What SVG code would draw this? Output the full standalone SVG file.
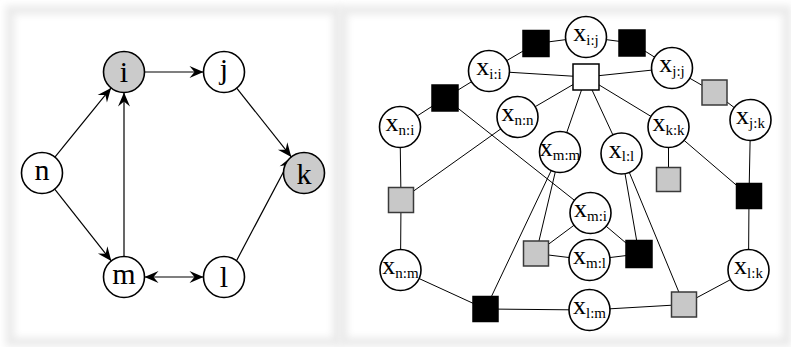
<svg xmlns="http://www.w3.org/2000/svg" width="791" height="347" viewBox="0 0 791 347">
<style>
.edge{stroke:#000;stroke-width:1.2;fill:none}
.ln{stroke:#000;stroke-width:1;fill:none}
.nd{fill:#fff;stroke:#000;stroke-width:1.6}
.nd.g{fill:#cbcbcb}
.lb{font-family:"Liberation Serif","DejaVu Serif",serif;font-size:30px;text-anchor:middle;fill:#000}
.xl{font-family:"Liberation Serif","DejaVu Serif",serif;font-size:26px;text-anchor:middle;fill:#000}
.sb{font-size:15px}
.fb{fill:#000;stroke:#000;stroke-width:1.5}
.fg{fill:#c8c8c8;stroke:#3a3a3a;stroke-width:1.5}
.fw{fill:#fff;stroke:#000;stroke-width:1.5}
</style>
<defs>
<filter id="sh" x="-5%" y="-5%" width="110%" height="110%"><feGaussianBlur stdDeviation="3.5"/></filter>
<marker id="ar" markerUnits="userSpaceOnUse" markerWidth="17" markerHeight="15" viewBox="-15 -7.5 17 15" refX="0" refY="0" orient="auto-start-reverse">
<path d="M0,0 L-14,-6 L-9,0 L-14,6 Z" fill="#000"/>
</marker>
</defs>
<rect width="791" height="347" fill="#fff"/>
<g id="panels">
<rect x="10" y="10" width="327" height="332" fill="none" stroke="#ebebeb" stroke-width="9" filter="url(#sh)"/>
<rect x="343" y="10" width="444" height="332" fill="none" stroke="#ebebeb" stroke-width="9" filter="url(#sh)"/>
</g>
<g id="left-edges">
<line class="edge" x1="144.5" y1="72" x2="203.5" y2="72" marker-end="url(#ar)"/>
<line class="edge" x1="236.7" y1="88.1" x2="291.3" y2="156.9" marker-end="url(#ar)"/>
<line class="edge" x1="54.9" y1="157.1" x2="111.1" y2="87.9" marker-end="url(#ar)"/>
<line class="edge" x1="54.7" y1="189.1" x2="111.3" y2="260.9" marker-end="url(#ar)"/>
<line class="edge" x1="124" y1="256.5" x2="124" y2="92.5" marker-end="url(#ar)"/>
<line class="edge" x1="236.5" y1="260.7" x2="291.5" y2="156.7" marker-end="url(#ar)"/>
<line class="edge" x1="144.5" y1="277" x2="203.5" y2="277" marker-start="url(#ar)" marker-end="url(#ar)"/>
</g>
<g id="node-i"><circle class="nd g" cx="124" cy="72" r="20.5"/><text class="lb" x="124" y="82">i</text></g>
<g id="node-j"><circle class="nd" cx="224" cy="72" r="20.5"/><text class="lb" x="224" y="79">j</text></g>
<g id="node-n"><circle class="nd" cx="42" cy="173" r="20.5"/><text class="lb" x="42" y="180">n</text></g>
<g id="node-k"><circle class="nd g" cx="304" cy="173" r="20.5"/><text class="lb" x="304" y="184">k</text></g>
<g id="node-m"><circle class="nd" cx="124" cy="277" r="20.5"/><text class="lb" x="124" y="284">m</text></g>
<g id="node-l"><circle class="nd" cx="224" cy="277" r="20.5"/><text class="lb" x="224" y="287">l</text></g>
<g id="right-edges">
<path class="ln" d="M489,71 L536,43.5 L586,37"/>
<path class="ln" d="M586,37 L632,43 L672,68"/>
<path class="ln" d="M586,77 L489,71 M586,77 L672,68 M586,77 L517.5,117 M586,77 L560,152 M586,77 L621.5,153.5 M586,77 L668.5,127"/>
<path class="ln" d="M445,98 L400,127 M445,98 L489,71 M445,98 L590.5,213"/>
<path class="ln" d="M672,68 L714.5,92.5 L750.5,120"/>
<path class="ln" d="M668.5,127 L668.5,179.5"/>
<path class="ln" d="M749,196 L750.5,120 M749,196 L748.5,270 M749,196 L668.5,127"/>
<path class="ln" d="M401,200 L400,127 M401,200 L400.5,270 M401,200 L517.5,117"/>
<path class="ln" d="M536,253.5 L560,152 M536,253.5 L590.5,213 M536,253.5 L589.5,260"/>
<path class="ln" d="M639,254 L621.5,153.5 M639,254 L590.5,213 M639,254 L589.5,260"/>
<path class="ln" d="M485.5,309 L400.5,270 M485.5,309 L589.5,310 M485.5,309 L560,152"/>
<path class="ln" d="M684,304.5 L621.5,153.5 M684,304.5 L589.5,310 M684,304.5 L748.5,270"/>
</g>
<g id="f1"><rect class="fb" x="523" y="30.5" width="26" height="26"/></g>
<g id="f2"><rect class="fb" x="619" y="30" width="26" height="26"/></g>
<g id="f3"><rect class="fw" x="573" y="64" width="26" height="26"/></g>
<g id="f4"><rect class="fb" x="432" y="85" width="26" height="26"/></g>
<g id="f5"><rect class="fg" x="702" y="80" width="25" height="25"/></g>
<g id="f6"><rect class="fg" x="656.5" y="167.5" width="24" height="24"/></g>
<g id="f7"><rect class="fb" x="736.5" y="183.5" width="25" height="25"/></g>
<g id="f8"><rect class="fg" x="388.5" y="187.5" width="25" height="25"/></g>
<g id="f9"><rect class="fg" x="523.5" y="241" width="25" height="25"/></g>
<g id="f10"><rect class="fb" x="626" y="240.5" width="26" height="27"/></g>
<g id="f11"><rect class="fb" x="473" y="296.5" width="25" height="25"/></g>
<g id="f12"><rect class="fg" x="671.5" y="292" width="25" height="25"/></g>
<g id="x-ii"><circle class="nd" cx="489" cy="71" r="20.5"/><text class="xl" x="489" y="75">x<tspan class="sb" dy="3.5">i:i</tspan></text></g>
<g id="x-ij"><circle class="nd" cx="586" cy="37" r="20.5"/><text class="xl" x="586" y="41">x<tspan class="sb" dy="3.5">i:j</tspan></text></g>
<g id="x-jj"><circle class="nd" cx="672" cy="68" r="20.5"/><text class="xl" x="672" y="72">x<tspan class="sb" dy="3.5">j:j</tspan></text></g>
<g id="x-ni"><circle class="nd" cx="400" cy="127" r="20.5"/><text class="xl" x="400" y="131">x<tspan class="sb" dy="3.5">n:i</tspan></text></g>
<g id="x-nn"><circle class="nd" cx="517.5" cy="117" r="20.5"/><text class="xl" x="517.5" y="121">x<tspan class="sb" dy="3.5">n:n</tspan></text></g>
<g id="x-mm"><circle class="nd" cx="560" cy="152" r="20.5"/><text class="xl" x="560" y="156">x<tspan class="sb" dy="3.5">m:m</tspan></text></g>
<g id="x-ll"><circle class="nd" cx="621.5" cy="153.5" r="20.5"/><text class="xl" x="621.5" y="157.5">x<tspan class="sb" dy="3.5">l:l</tspan></text></g>
<g id="x-kk"><circle class="nd" cx="668.5" cy="127" r="20.5"/><text class="xl" x="668.5" y="131">x<tspan class="sb" dy="3.5">k:k</tspan></text></g>
<g id="x-jk"><circle class="nd" cx="750.5" cy="120" r="20.5"/><text class="xl" x="750.5" y="124">x<tspan class="sb" dy="3.5">j:k</tspan></text></g>
<g id="x-mi"><circle class="nd" cx="590.5" cy="213" r="20.5"/><text class="xl" x="590.5" y="217">x<tspan class="sb" dy="3.5">m:i</tspan></text></g>
<g id="x-ml"><circle class="nd" cx="589.5" cy="260" r="20.5"/><text class="xl" x="589.5" y="264">x<tspan class="sb" dy="3.5">m:l</tspan></text></g>
<g id="x-nm"><circle class="nd" cx="400.5" cy="270" r="20.5"/><text class="xl" x="400.5" y="274">x<tspan class="sb" dy="3.5">n:m</tspan></text></g>
<g id="x-lm"><circle class="nd" cx="589.5" cy="310" r="20.5"/><text class="xl" x="589.5" y="314">x<tspan class="sb" dy="3.5">l:m</tspan></text></g>
<g id="x-lk"><circle class="nd" cx="748.5" cy="270" r="20.5"/><text class="xl" x="748.5" y="274">x<tspan class="sb" dy="3.5">l:k</tspan></text></g>
</svg>
